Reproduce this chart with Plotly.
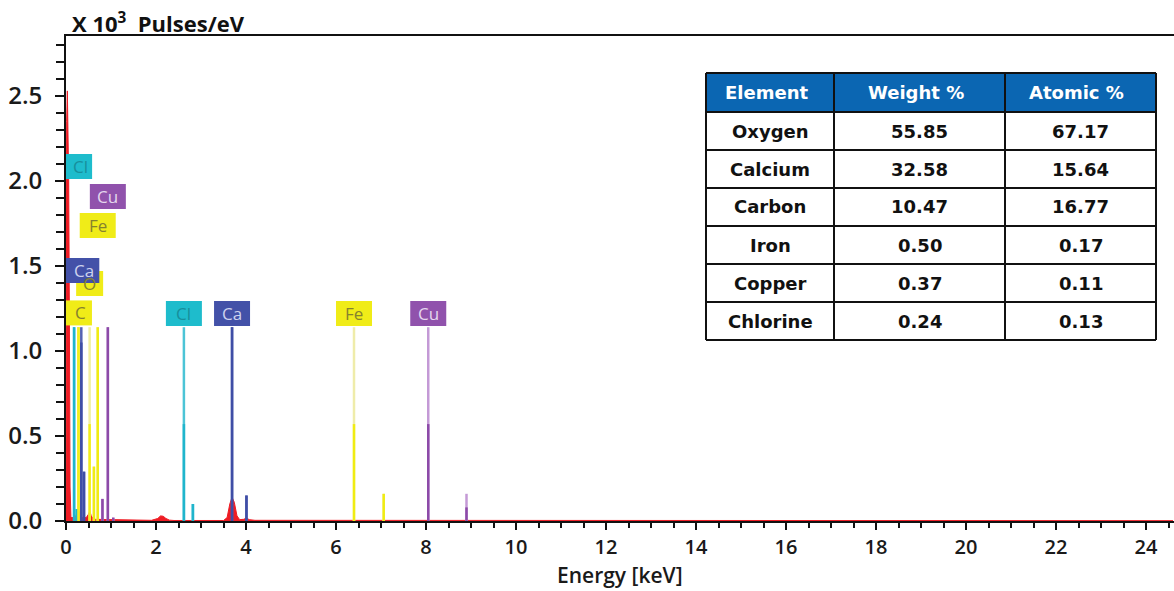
import plotly.graph_objects as go

# ---------------- data ----------------
# measured EDS spectrum (x 10^3 pulses/eV)
spec_energy = [0.0, 0.004, 0.015, 0.03, 0.045, 0.06, 0.075, 0.09, 0.11, 0.2, 0.25, 0.28, 0.31,
               0.36, 0.45, 0.5, 0.53, 0.56, 0.62, 1.9, 2.04, 2.1, 2.16, 2.22, 2.3, 2.4,
               3.5, 3.58, 3.64, 3.69, 3.74, 3.8, 3.86, 3.95, 4.01, 4.07, 4.2, 24.6]
spec_counts = [0.0, 2.05, 2.35, 2.53, 2.3, 2.0, 1.2, 0.2, 0.02, 0.02, 0.05, 0.07, 0.04,
               0.02, 0.02, 0.04, 0.06, 0.03, 0.01, 0.004, 0.015, 0.03, 0.028, 0.015, 0.005, 0.003,
               0.003, 0.02, 0.1, 0.14, 0.11, 0.03, 0.008, 0.01, 0.018, 0.008, 0.004, 0.002]

# element marker lines (keV, full height, height of the strong part)
line_elements = ["Cl", "Cl", "C", "Ca", "Ca", "O", "Fe", "Fe", "Cu", "Cu", "Cu",
                 "Cl", "Cl", "Ca", "Ca", "Fe", "Fe", "Cu", "Cu"]
line_energies = [0.18, 0.24, 0.277, 0.34, 0.40, 0.525, 0.62, 0.705, 0.81, 0.93, 1.05,
                 2.62, 2.82, 3.69, 4.01, 6.40, 7.06, 8.05, 8.90]
line_heights = [1.14, 0.07, 1.14, 1.14, 0.29, 1.14, 0.32, 1.14, 0.13, 1.14, 0.02,
                1.14, 0.10, 1.14, 0.15, 1.14, 0.16, 1.14, 0.16]
line_strong = [1.14, 0.07, 1.14, 1.05, 0.29, 0.57, 0.32, 1.14, 0.13, 1.14, 0.02,
               0.57, 0.10, 1.14, 0.15, 0.57, 0.16, 0.57, 0.08]

# element label tags (energy, level on the count axis)
label_elements = ["Cl", "Cu", "Fe", "O", "Ca", "C", "Cl", "Ca", "Fe", "Cu"]
label_energies = [0.18, 0.93, 0.705, 0.525, 0.34, 0.277, 2.62, 3.69, 6.40, 8.05]
label_levels = [2.085, 1.909, 1.738, 1.397, 1.474, 1.224, 1.221, 1.221, 1.221, 1.221]

# quantification table
table_header = ["Element", "Weight %", "Atomic %"]
table_elements = ["Oxygen", "Calcium", "Carbon", "Iron", "Copper", "Chlorine"]
table_weight = [55.85, 32.58, 10.47, 0.50, 0.37, 0.24]
table_atomic = [67.17, 15.64, 16.77, 0.17, 0.11, 0.13]

# ---------------- styling ----------------
W, H = 1174, 591
ML, MR, MT, MB = 66, 0, 36, 70
PX_PER_KEV = 45.0
PX_PER_UNIT = 170.0
x_max = (W - ML - MR) / PX_PER_KEV
y_max = (H - MT - MB) / PX_PER_UNIT

strong_col = {"Cl": "#1fb5cc", "C": "#f2ee1a", "O": "#f2ee1a", "Ca": "#3f4ea6",
              "Fe": "#f0ec12", "Cu": "#8c4aa8"}
light_col = {"Cl": "#4cc4d6", "C": "#f2ee3a", "O": "#f2efa0", "Ca": "#5561b2",
             "Fe": "#efecaa", "Cu": "#c49ad6"}
tag_bg = {"Cl": "#1ebccc", "C": "#f0ec18", "O": "#f0ec18", "Ca": "#4351a8",
          "Fe": "#f0ec18", "Cu": "#9052ac"}
tag_fg = {"Cl": "#178f9c", "C": "#86822e", "O": "#86822e", "Ca": "#cdd1ee",
          "Fe": "#86822e", "Cu": "#e4d6ee"}

FONT = "Open Sans"
TABLE_FONT = "DejaVu Sans"
fig = go.Figure()

# red measured spectrum
fig.add_trace(go.Scatter(x=spec_energy, y=spec_counts, mode="lines", fill="tozeroy",
                         line=dict(color="#ee1c24", width=1), fillcolor="#ee1c24",
                         hoverinfo="skip", showlegend=False))

# marker lines: light full-height part, then the strong lower part on top
for part in ("light", "strong"):
    for el in strong_col:
        xs, ys = [], []
        for e, name, h, s in zip(line_energies, line_elements, line_heights, line_strong):
            if name != el:
                continue
            top = h if part == "light" else s
            xs += [e, e, None]
            ys += [0, top, None]
        if not xs:
            continue
        col = light_col[el] if part == "light" else strong_col[el]
        fig.add_trace(go.Scatter(x=xs, y=ys, mode="lines", line=dict(color=col, width=2.5),
                                 hoverinfo="skip", showlegend=False))

shapes = []
annotations = []

# element tags (boxes clipped to the plot area)
tag_h = 25 / PX_PER_UNIT
for el, e, lvl in zip(label_elements, label_energies, label_levels):
    w_px = 36 if len(el) == 2 else 27
    hw = w_px / 2 / PX_PER_KEV
    x0, x1 = e - hw, e + hw
    shapes.append(dict(type="rect", xref="x", yref="y", x0=x0, x1=x1,
                       y0=lvl - tag_h / 2, y1=lvl + tag_h / 2,
                       fillcolor=tag_bg[el], line=dict(width=0), layer="above"))
    tx = (max(x0, 0.05) + x1) / 2
    annotations.append(dict(x=tx, y=lvl, xref="x", yref="y", text=el, showarrow=False,
                            font=dict(family=FONT, size=17, color=tag_fg[el]),
                            xanchor="center", yanchor="middle"))


# table drawn in pixel-based paper coordinates
def px(xp):
    return (xp - ML) / (W - ML - MR)


def py(yp):
    return (H - MB - yp) / (H - MT - MB)


col_edges = [706, 834, 1005, 1156]
row_edges = [73, 112, 150, 188, 226, 264, 302, 340]

shapes.append(dict(type="rect", xref="paper", yref="paper", x0=px(col_edges[0]), x1=px(col_edges[-1]),
                   y0=py(row_edges[-1]), y1=py(row_edges[0]), fillcolor="white",
                   line=dict(width=0), layer="above"))
shapes.append(dict(type="rect", xref="paper", yref="paper", x0=px(col_edges[0]), x1=px(col_edges[-1]),
                   y0=py(row_edges[1]), y1=py(row_edges[0]), fillcolor="#0b66b2",
                   line=dict(width=0), layer="above"))
for xe in col_edges:
    shapes.append(dict(type="line", xref="paper", yref="paper", x0=px(xe), x1=px(xe),
                       y0=py(row_edges[-1]), y1=py(row_edges[0]),
                       line=dict(color="#111111", width=2), layer="above"))
for ye in row_edges:
    shapes.append(dict(type="line", xref="paper", yref="paper", x0=px(col_edges[0]), x1=px(col_edges[-1]),
                       y0=py(ye), y1=py(ye), line=dict(color="#111111", width=2), layer="above"))

col_centers = [(a + b) / 2 for a, b in zip(col_edges[:-1], col_edges[1:])]
row_centers = [(a + b) / 2 for a, b in zip(row_edges[:-1], row_edges[1:])]

for c, txt in zip(col_centers, table_header):
    annotations.append(dict(x=px(c - 4), y=py(row_centers[0]), xref="paper", yref="paper",
                            text="<b>%s</b>" % txt, showarrow=False,
                            font=dict(family=TABLE_FONT, size=18, color="white"),
                            xanchor="center", yanchor="middle"))
for i, (name, wgt, at) in enumerate(zip(table_elements, table_weight, table_atomic)):
    yc = py(row_centers[i + 1])
    for c, txt in zip(col_centers, [name, "%.2f" % wgt, "%.2f" % at]):
        annotations.append(dict(x=px(c), y=yc, xref="paper", yref="paper",
                                text="<b>%s</b>" % txt, showarrow=False,
                                font=dict(family=TABLE_FONT, size=18, color="#111111"),
                                xanchor="center", yanchor="middle"))

# unit label above the count axis
annotations.append(dict(x=px(70), y=py(22), xref="paper", yref="paper",
                        text="<b>X 10<sup>3</sup>&nbsp;&nbsp;Pulses/eV</b>", showarrow=False,
                        font=dict(family=FONT, size=22, color="#111111"),
                        xanchor="left", yanchor="middle"))

# energy axis title placed explicitly below the tick labels
annotations.append(dict(x=0.5, y=py(591), xref="paper", yref="paper",
                        text="Energy [keV]", showarrow=False,
                        font=dict(family=FONT, size=21, color="#1a1a1a", weight=600),
                        xanchor="center", yanchor="bottom"))

fig.update_layout(
    width=W, height=H,
    margin=dict(l=ML, r=MR, t=MT, b=MB, pad=0),
    paper_bgcolor="white", plot_bgcolor="white",
    shapes=shapes, annotations=annotations,
    showlegend=False,
    xaxis=dict(range=[0, x_max], showgrid=False, zeroline=False, showline=True,
               linecolor="#111111", linewidth=2, mirror=True,
               tickmode="linear", tick0=0, dtick=2, ticks="outside", ticklen=7,
               tickwidth=2, tickcolor="#111111",
               minor=dict(dtick=0.5, ticks="outside", ticklen=5, tickwidth=1.5, tickcolor="#111111"),
               tickfont=dict(family=FONT, size=20, color="#1a1a1a", weight=600)),
    yaxis=dict(range=[0, y_max], showgrid=False, zeroline=False, showline=True,
               linecolor="#111111", linewidth=2,
               tickmode="linear", tick0=0, dtick=0.5, tickformat=".1f",
               ticks="outside", ticklen=9, tickwidth=2, tickcolor="#111111",
               minor=dict(dtick=0.1, ticks="outside", ticklen=8, tickwidth=1.5, tickcolor="#111111"),
               ticklabelstandoff=8,
               tickfont=dict(family=FONT, size=24, color="#1a1a1a", weight=600)),
)

fig.write_html("out.html")
